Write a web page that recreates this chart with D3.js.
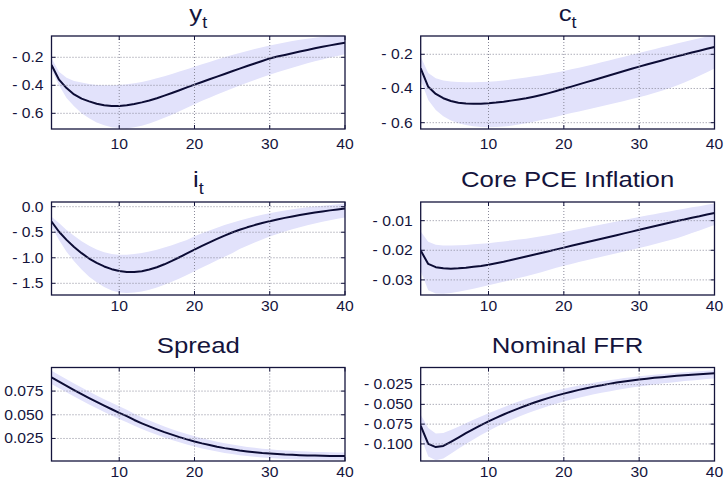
<!DOCTYPE html>
<html>
<head>
<meta charset="utf-8">
<script src="https://cdn.jsdelivr.net/npm/d3@7"></script>
<style>
  body { margin: 0; background: #fff; }
  svg { display: block; font-family: "Liberation Sans", Arial, sans-serif; }
</style>
</head>
<body>
<svg id="chart" width="725" height="483"></svg>
<script>
// horizon 1..40
const periods = d3.range(1, 41);

// y_t
const yMean = [-0.255,-0.36,-0.42,-0.465,-0.495,-0.515,-0.532,-0.543,-0.548,-0.547,-0.542,-0.533,-0.522,-0.508,-0.492,-0.474,-0.455,-0.435,-0.415,-0.395,
  -0.376,-0.357,-0.338,-0.319,-0.300,-0.281,-0.262,-0.244,-0.226,-0.208,-0.195,-0.183,-0.171,-0.159,-0.148,-0.136,-0.125,-0.115,-0.105,-0.096];
const yLow = [-0.29,-0.40,-0.49,-0.55,-0.60,-0.635,-0.665,-0.685,-0.70,-0.705,-0.708,-0.70,-0.688,-0.672,-0.653,-0.632,-0.61,-0.585,-0.56,-0.535,
  -0.51,-0.488,-0.466,-0.444,-0.423,-0.402,-0.382,-0.362,-0.343,-0.325,-0.307,-0.29,-0.274,-0.258,-0.243,-0.229,-0.215,-0.202,-0.19,-0.178];
const yUp = [-0.207,-0.303,-0.346,-0.37,-0.38,-0.39,-0.397,-0.40,-0.40,-0.398,-0.393,-0.386,-0.376,-0.364,-0.35,-0.335,-0.319,-0.302,-0.285,-0.268,
  -0.25,-0.233,-0.216,-0.2,-0.184,-0.169,-0.155,-0.141,-0.128,-0.116,-0.105,-0.094,-0.084,-0.075,-0.067,-0.06,-0.053,-0.047,-0.042,-0.037];

// c_t
const cMean = [-0.282,-0.39,-0.432,-0.457,-0.473,-0.483,-0.488,-0.49,-0.489,-0.486,-0.482,-0.477,-0.471,-0.464,-0.457,-0.448,-0.438,-0.427,-0.415,-0.402,
  -0.389,-0.376,-0.363,-0.35,-0.337,-0.324,-0.311,-0.298,-0.285,-0.272,-0.26,-0.248,-0.236,-0.224,-0.212,-0.201,-0.19,-0.179,-0.168,-0.157];
const cLow = [-0.35,-0.467,-0.526,-0.563,-0.587,-0.603,-0.614,-0.621,-0.625,-0.627,-0.626,-0.623,-0.618,-0.611,-0.603,-0.594,-0.585,-0.575,-0.565,-0.554,
  -0.544,-0.534,-0.524,-0.514,-0.504,-0.494,-0.484,-0.473,-0.462,-0.451,-0.44,-0.427,-0.413,-0.398,-0.383,-0.365,-0.346,-0.326,-0.305,-0.283];
const cUp = [-0.214,-0.31,-0.34,-0.353,-0.359,-0.362,-0.363,-0.363,-0.362,-0.36,-0.357,-0.353,-0.348,-0.342,-0.336,-0.329,-0.322,-0.314,-0.306,-0.297,
  -0.288,-0.278,-0.268,-0.258,-0.247,-0.236,-0.225,-0.214,-0.203,-0.192,-0.181,-0.17,-0.159,-0.148,-0.137,-0.126,-0.116,-0.106,-0.096,-0.087];

// i_t
const iMean = [-0.29,-0.49,-0.65,-0.79,-0.91,-1.015,-1.1,-1.17,-1.223,-1.26,-1.278,-1.28,-1.262,-1.23,-1.185,-1.128,-1.062,-0.99,-0.915,-0.84,
  -0.768,-0.698,-0.63,-0.565,-0.505,-0.452,-0.404,-0.36,-0.32,-0.283,-0.25,-0.219,-0.19,-0.163,-0.138,-0.114,-0.092,-0.072,-0.054,-0.037];
const iLow = [-0.39,-0.65,-0.88,-1.07,-1.23,-1.37,-1.48,-1.57,-1.64,-1.68,-1.69,-1.68,-1.66,-1.625,-1.58,-1.53,-1.47,-1.405,-1.335,-1.262,
  -1.19,-1.12,-1.05,-0.98,-0.912,-0.83,-0.765,-0.70,-0.64,-0.585,-0.535,-0.488,-0.444,-0.403,-0.365,-0.33,-0.297,-0.266,-0.237,-0.21];
const iUp = [-0.195,-0.32,-0.455,-0.57,-0.675,-0.765,-0.84,-0.893,-0.925,-0.94,-0.94,-0.928,-0.907,-0.878,-0.842,-0.8,-0.753,-0.703,-0.65,-0.58,
  -0.52,-0.465,-0.41,-0.36,-0.315,-0.27,-0.23,-0.193,-0.16,-0.13,-0.1,-0.075,-0.052,-0.032,-0.013,0.004,0.02,0.035,0.05,0.065];

// Core PCE Inflation
const pMean = [-0.0201,-0.0246,-0.0257,-0.0261,-0.0262,-0.0261,-0.0259,-0.0256,-0.0253,-0.0249,-0.0244,-0.0239,-0.0233,-0.0227,-0.0221,-0.0215,-0.0209,-0.0203,-0.0197,-0.0191,
  -0.0185,-0.0179,-0.0173,-0.0167,-0.0161,-0.0155,-0.0149,-0.0143,-0.0137,-0.0131,-0.0125,-0.0119,-0.0113,-0.0107,-0.0101,-0.0096,-0.009,-0.0085,-0.0079,-0.0074];
const pLow = [-0.027,-0.0335,-0.0346,-0.0347,-0.0344,-0.034,-0.0335,-0.033,-0.0324,-0.0318,-0.0312,-0.0306,-0.03,-0.0294,-0.0288,-0.0281,-0.0274,-0.0267,-0.0259,-0.0252,
  -0.0246,-0.024,-0.0234,-0.0228,-0.0222,-0.0216,-0.021,-0.0204,-0.0198,-0.0192,-0.0186,-0.018,-0.0173,-0.0166,-0.0159,-0.0151,-0.0142,-0.0133,-0.0124,-0.0115];
const pUp = [-0.0137,-0.0171,-0.0181,-0.0184,-0.0184,-0.0183,-0.0182,-0.018,-0.0178,-0.0176,-0.0173,-0.017,-0.0167,-0.0164,-0.0161,-0.0157,-0.0153,-0.0148,-0.0143,-0.0138,
  -0.0133,-0.0128,-0.0123,-0.0118,-0.0113,-0.0108,-0.0103,-0.0098,-0.0093,-0.0088,-0.0083,-0.0078,-0.0073,-0.0069,-0.0064,-0.006,-0.0055,-0.0051,-0.0046,-0.0042];

// Spread
const sMean = [0.0895,0.085,0.0805,0.0761,0.0718,0.0676,0.0635,0.0596,0.0558,0.0521,0.0486,0.0445,0.041,0.0377,0.0346,0.0317,0.029,0.0264,0.024,0.0218,
  0.0198,0.018,0.0163,0.0148,0.0135,0.0123,0.0113,0.0104,0.0096,0.009,0.0085,0.008,0.0077,0.0074,0.0071,0.0069,0.0067,0.0066,0.0065,0.0064];
const sLow = [0.0825,0.0781,0.0737,0.0693,0.065,0.0609,0.0569,0.053,0.0493,0.0456,0.0422,0.0384,0.035,0.0318,0.0288,0.026,0.0234,0.0209,0.0186,0.0164,
  0.0145,0.0127,0.0111,0.0097,0.0085,0.0074,0.0064,0.0056,0.0049,0.0043,0.0038,0.0034,0.0031,0.0029,0.0027,0.0026,0.0025,0.0024,0.0024,0.0024];
const sUp = [0.0965,0.092,0.0875,0.083,0.0787,0.0745,0.0704,0.0665,0.0627,0.059,0.0554,0.051,0.0474,0.044,0.0408,0.0377,0.0348,0.0321,0.0296,0.0273,
  0.0252,0.0233,0.0215,0.0199,0.0185,0.0172,0.0161,0.0151,0.0142,0.0135,0.0129,0.0123,0.0119,0.0115,0.0111,0.0108,0.0106,0.0104,0.0103,0.0102];

// Nominal FFR
const fMean = [-0.077,-0.1,-0.104,-0.1025,-0.0975,-0.092,-0.0865,-0.0812,-0.0762,-0.0715,-0.067,-0.0628,-0.0588,-0.055,-0.0514,-0.048,-0.0448,-0.0418,-0.039,-0.0364,
  -0.034,-0.0317,-0.0296,-0.0276,-0.0258,-0.0241,-0.0225,-0.0211,-0.0198,-0.0186,-0.0175,-0.0165,-0.0156,-0.0147,-0.0139,-0.0132,-0.0125,-0.0118,-0.0112,-0.0106];
const fLow = [-0.0905,-0.116,-0.1205,-0.1185,-0.1125,-0.1062,-0.1001,-0.0943,-0.0888,-0.0836,-0.0787,-0.0741,-0.0698,-0.0658,-0.062,-0.0585,-0.0552,-0.0521,-0.0492,-0.0465,
  -0.044,-0.0416,-0.0394,-0.0373,-0.0354,-0.0336,-0.0319,-0.0303,-0.0288,-0.0274,-0.0261,-0.0249,-0.0237,-0.0226,-0.0216,-0.0206,-0.0197,-0.0188,-0.018,-0.0172];
const fUp = [-0.063,-0.08,-0.0868,-0.0862,-0.0825,-0.0782,-0.0738,-0.0695,-0.0653,-0.0612,-0.0573,-0.0535,-0.0499,-0.0465,-0.0433,-0.0403,-0.0375,-0.0349,-0.0325,-0.0302,
  -0.0281,-0.0261,-0.0243,-0.0226,-0.021,-0.0195,-0.0181,-0.0168,-0.0156,-0.0145,-0.0135,-0.0126,-0.0117,-0.0109,-0.0101,-0.0094,-0.0087,-0.0081,-0.0075,-0.007];

// tick labels
const xTicks = [10, 20, 30, 40];
const yTicks1 = [-0.2, -0.4, -0.6];
const cTicks = [-0.2, -0.4, -0.6];
const iTicks = [0.0, -0.5, -1.0, -1.5];
const pTicks = [-0.01, -0.02, -0.03];
const sTicks = [0.075, 0.050, 0.025];
const fTicks = [-0.025, -0.050, -0.075, -0.100];

const panels = [
  {title: "y", sub: "t", mean: yMean, low: yLow, up: yUp, ticks: yTicks1, dec: 1, dom: [-0.712, -0.048], col: 0, row: 0},
  {title: "c", sub: "t", mean: cMean, low: cLow, up: cUp, ticks: cTicks, dec: 1, dom: [-0.637, -0.093], col: 1, row: 0},
  {title: "i", sub: "t", mean: iMean, low: iLow, up: iUp, ticks: iTicks, dec: 1, dom: [-1.729, 0.092], col: 0, row: 1},
  {title: "Core PCE Inflation", mean: pMean, low: pLow, up: pUp, ticks: pTicks, dec: 2, dom: [-0.0351, -0.0037], col: 1, row: 1},
  {title: "Spread", mean: sMean, low: sLow, up: sUp, ticks: sTicks, dec: 3, dom: [0.0012, 0.0999], col: 0, row: 2},
  {title: "Nominal FFR", mean: fMean, low: fLow, up: fUp, ticks: fTicks, dec: 3, dom: [-0.1216, -0.0034], col: 1, row: 2}
];

const colX = [[51.5, 345], [420.7, 714.5]];
const rowY = [[36, 129], [202, 295], [367.5, 461]];
const xLabelGap = [19.5, 15.5, 16];
const stretch = 1.12;   // glyphs in the original are a bit wide

const ink = "#14143c";
const svg = d3.select("#chart");

function fmt(v, dec) {
  if (Math.abs(v) < 1e-12) return (0).toFixed(dec);
  return (v < 0 ? "- " : "") + Math.abs(v).toFixed(dec);
}

function wideText(parent, tx, ty, size, anchor) {
  return parent.append("g")
    .attr("transform", "translate(" + tx + "," + ty + ") scale(" + stretch + ",1)")
    .append("text")
    .attr("text-anchor", anchor)
    .attr("font-size", size)
    .attr("fill", ink);
}

panels.forEach(function(p, k) {
  const x0 = colX[p.col][0], x1 = colX[p.col][1];
  const y0 = rowY[p.row][0], y1 = rowY[p.row][1];
  const x = d3.scaleLinear().domain([1, 40]).range([x0, x1]);
  const y = d3.scaleLinear().domain(p.dom).range([y1, y0]);
  const g = svg.append("g");

  g.append("clipPath").attr("id", "clip" + k)
    .append("rect").attr("x", x0).attr("y", y0).attr("width", x1 - x0).attr("height", y1 - y0);

  const rows = periods.map(function(t, i) { return {t: t, m: p.mean[i], lo: p.low[i], hi: p.up[i]}; });

  const plot = g.append("g").attr("clip-path", "url(#clip" + k + ")");
  plot.append("path")
    .datum(rows)
    .attr("fill", "#e2e2fb")
    .attr("d", d3.area()
      .x(function(d) { return x(d.t); })
      .y0(function(d) { return y(d.lo); })
      .y1(function(d) { return y(d.hi); }));

  // grid
  g.append("g").selectAll("line").data(xTicks.filter(function(v) { return v < 40; }))
    .enter().append("line")
    .attr("x1", function(d) { return x(d); }).attr("x2", function(d) { return x(d); })
    .attr("y1", y0).attr("y2", y1)
    .attr("stroke", "#8a8a9a").attr("stroke-width", 1).attr("stroke-dasharray", "1,2");
  g.append("g").selectAll("line").data(p.ticks)
    .enter().append("line")
    .attr("x1", x0).attr("x2", x1)
    .attr("y1", function(d) { return y(d); }).attr("y2", function(d) { return y(d); })
    .attr("stroke", "#8a8a9a").attr("stroke-width", 1).attr("stroke-dasharray", "1,2");

  plot.append("path")
    .datum(rows)
    .attr("fill", "none")
    .attr("stroke", "#0c0c35")
    .attr("stroke-width", 2)
    .attr("stroke-linejoin", "round")
    .attr("d", d3.line()
      .x(function(d) { return x(d.t); })
      .y(function(d) { return y(d.m); }));

  // inward ticks
  const tk = g.append("g").attr("stroke", ink).attr("stroke-width", 1);
  p.ticks.forEach(function(v) {
    tk.append("line").attr("x1", x0).attr("x2", x0 + 4).attr("y1", y(v)).attr("y2", y(v));
    tk.append("line").attr("x1", x1).attr("x2", x1 - 4).attr("y1", y(v)).attr("y2", y(v));
  });
  xTicks.forEach(function(v) {
    tk.append("line").attr("x1", x(v)).attr("x2", x(v)).attr("y1", y1).attr("y2", y1 - 4);
    tk.append("line").attr("x1", x(v)).attr("x2", x(v)).attr("y1", y0).attr("y2", y0 + 4);
  });

  g.append("rect")
    .attr("x", x0).attr("y", y0).attr("width", x1 - x0).attr("height", y1 - y0)
    .attr("fill", "none").attr("stroke", ink).attr("stroke-width", 1.3);

  // tick labels
  p.ticks.forEach(function(v) {
    wideText(g, x0 - 8, y(v), 14, "end").attr("dy", "0.35em").text(fmt(v, p.dec));
  });
  xTicks.forEach(function(v) {
    wideText(g, x(v), y1 + xLabelGap[p.row], 14, "middle").text(v);
  });

  // title
  const title = wideText(g, (x0 + x1) / 2, y0 - 15, 23, "middle").text(p.title);
  if (p.sub) {
    title.append("tspan").attr("dy", 7).attr("font-size", 16).text(p.sub);
  }
});
</script>
</body>
</html>
